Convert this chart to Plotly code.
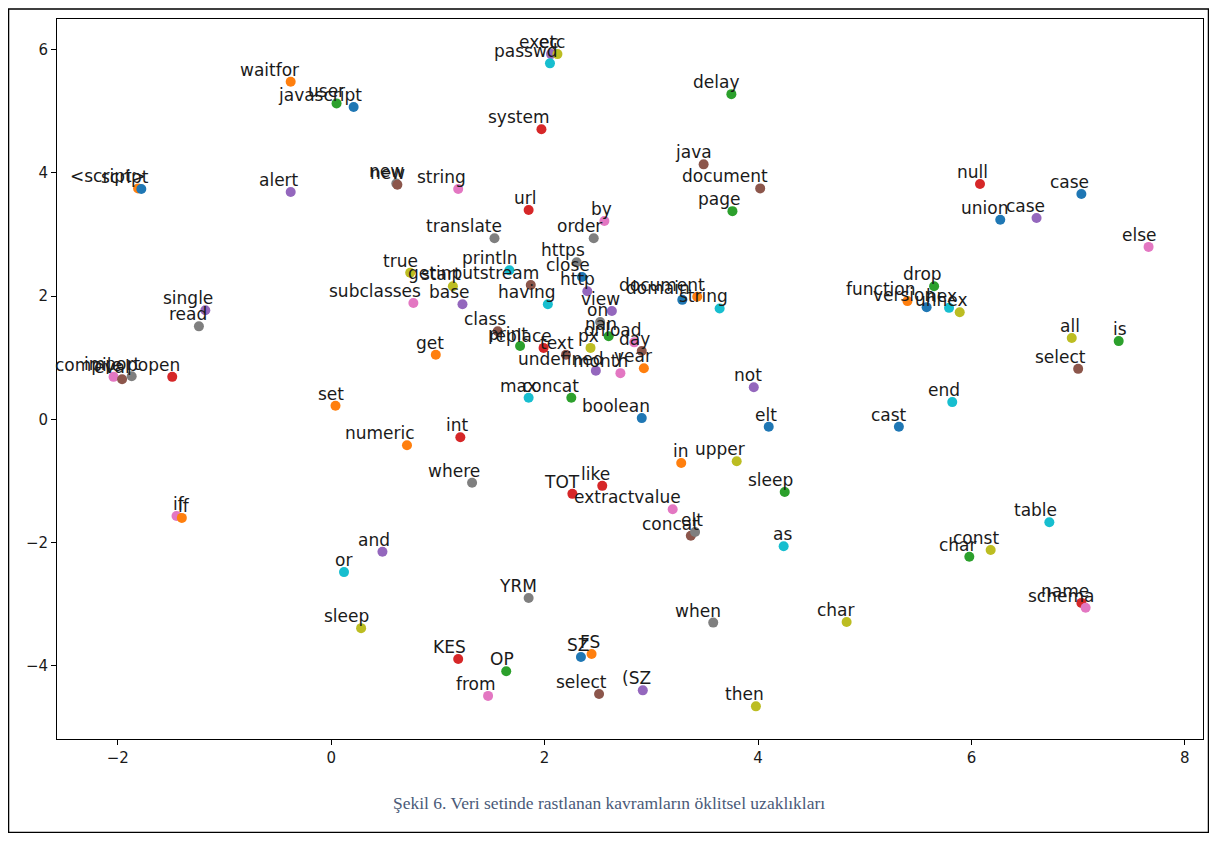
import plotly.graph_objects as go

# ---- data ----
words = [
    "waitfor", "user", "javascript", "exec", "etc", "passwd", "system", "delay", "java", "document",
    "page", "null", "case", "union", "case", "else", "<script>", "script", "alert", "new",
    "new", "string", "url", "by", "translate", "order", "https", "println", "close", "http",
    "true", "getinputstream", "start", "subclasses", "base", "having", "view", "domain", "document", "string",
    "on", "nan", "onload", "px", "day", "class", "print", "replace", "text", "undefined",
    "month", "year", "get", "max", "concat", "boolean", "not", "elt", "cast", "in",
    "upper", "sleep", "drop", "function", "version", "hex", "unhex", "all", "is", "select",
    "end", "single", "read", "compile", "eval", "import", "popen", "set", "numeric", "int",
    "where", "TOT", "like", "extractvalue", "concat", "elt", "as", "when", "char", "then",
    "(SZ", "select", "SZ", "FS", "KES", "OP", "from", "YRM", "sleep", "or",
    "and", "if", "if", "table", "const", "char", "name", "schema",
]
x_vals = [
    -0.38, 0.05, 0.21, 2.06, 2.12, 2.05, 1.97, 3.75, 3.49, 4.02,
    3.76, 6.08, 7.03, 6.27, 6.61, 7.66, -1.81, -1.78, -0.38, 0.61,
    0.62, 1.19, 1.85, 2.56, 1.53, 2.46, 2.30, 1.67, 2.35, 2.40,
    0.74, 1.87, 1.14, 0.77, 1.23, 2.03, 2.63, 3.29, 3.43, 3.64,
    2.52, 2.60, 2.84, 2.43, 2.91, 1.56, 1.77, 1.99, 2.20, 2.48,
    2.71, 2.93, 0.98, 1.85, 2.25, 2.91, 3.96, 4.10, 5.32, 3.28,
    3.80, 4.25, 5.65, 5.40, 5.58, 5.79, 5.89, 6.94, 7.38, 7.00,
    5.82, -1.18, -1.24, -2.04, -1.96, -1.87, -1.49, 0.04, 0.71, 1.21,
    1.32, 2.26, 2.54, 3.20, 3.37, 3.41, 4.24, 3.58, 4.83, 3.98,
    2.92, 2.51, 2.34, 2.44, 1.19, 1.64, 1.47, 1.85, 0.28, 0.12,
    0.48, -1.45, -1.40, 6.73, 6.18, 5.98, 7.03, 7.07,
]
y_vals = [
    5.48, 5.13, 5.07, 5.93, 5.93, 5.78, 4.71, 5.28, 4.14, 3.75,
    3.38, 3.82, 3.66, 3.24, 3.27, 2.80, 3.75, 3.74, 3.69, 3.83,
    3.81, 3.74, 3.40, 3.22, 2.94, 2.94, 2.55, 2.42, 2.31, 2.08,
    2.38, 2.18, 2.16, 1.89, 1.87, 1.87, 1.76, 1.94, 1.99, 1.80,
    1.58, 1.35, 1.25, 1.16, 1.11, 1.43, 1.19, 1.16, 1.05, 0.79,
    0.75, 0.83, 1.05, 0.35, 0.35, 0.02, 0.52, -0.12, -0.12, -0.71,
    -0.68, -1.18, 2.16, 1.92, 1.82, 1.81, 1.74, 1.32, 1.27, 0.82,
    0.28, 1.77, 1.51, 0.69, 0.65, 0.70, 0.69, 0.22, -0.42, -0.29,
    -1.03, -1.21, -1.08, -1.46, -1.89, -1.83, -2.06, -3.30, -3.29, -4.66,
    -4.40, -4.46, -3.86, -3.81, -3.89, -4.09, -4.49, -2.90, -3.39, -2.48,
    -2.15, -1.57, -1.60, -1.67, -2.12, -2.23, -2.98, -3.06,
]
x_ticks = [-2, 0, 2, 4, 6, 8]
y_ticks = [-4, -2, 0, 2, 4, 6]
caption = "Şekil 6. Veri setinde rastlanan kavramların öklitsel uzaklıkları"

# ---- style ----
palette = {
    "blue": "#1f77b4", "orange": "#ff7f0e", "green": "#2ca02c", "red": "#d62728",
    "purple": "#9467bd", "brown": "#8c564b", "pink": "#e377c2", "gray": "#7f7f7f",
    "olive": "#bcbd22", "cyan": "#17becf",
}
point_colors = [
    "orange", "green", "blue", "purple", "olive", "cyan", "red", "green", "brown", "brown",
    "green", "red", "blue", "blue", "purple", "pink", "orange", "blue", "purple", "gray",
    "brown", "pink", "red", "pink", "gray", "gray", "gray", "cyan", "blue", "purple",
    "olive", "brown", "olive", "pink", "purple", "cyan", "purple", "blue", "orange", "cyan",
    "gray", "green", "pink", "olive", "brown", "brown", "green", "red", "brown", "purple",
    "pink", "orange", "orange", "cyan", "green", "blue", "purple", "blue", "blue", "orange",
    "olive", "green", "green", "orange", "blue", "cyan", "olive", "olive", "green", "brown",
    "cyan", "purple", "gray", "pink", "brown", "gray", "red", "orange", "orange", "red",
    "gray", "red", "red", "pink", "brown", "gray", "cyan", "gray", "olive", "olive",
    "purple", "brown", "blue", "orange", "red", "green", "pink", "gray", "olive", "cyan",
    "purple", "pink", "orange", "cyan", "olive", "green", "red", "pink",
]

FONT = "DejaVu Sans"

fig = go.Figure()
fig.add_trace(go.Scatter(
    x=x_vals, y=y_vals, mode="markers",
    marker=dict(size=10, color=[palette[c] for c in point_colors], line=dict(width=0)),
    hoverinfo="text", text=words, showlegend=False,
))

annotations = []
for w, xv, yv in zip(words, x_vals, y_vals):
    annotations.append(dict(
        x=xv, y=yv, xref="x", yref="y", text=w, showarrow=False,
        xanchor="right", yanchor="bottom", xshift=10, yshift=0,
        font=dict(family=FONT, size=17, color="#1a1a1a"),
    ))

annotations.append(dict(
    x=0.4817, y=-0.089, xref="paper", yref="paper", text=caption, showarrow=False,
    xanchor="center", yanchor="middle",
    font=dict(family="Liberation Serif", size=17.5, color="#4a5a78"),
))

fig.update_layout(
    width=1201, height=825,
    margin=dict(l=49, r=6, t=11, b=94),
    paper_bgcolor="white", plot_bgcolor="white",
    annotations=annotations,
    shapes=[dict(
        type="rect", xref="paper", yref="paper",
        x0=-0.0423, x1=1.0048, y0=-0.1299, y1=1.0139,
        line=dict(color="black", width=1.5), fillcolor="rgba(0,0,0,0)", layer="below",
    )],
)
fig.update_xaxes(
    range=[-2.57, 8.17], tickvals=x_ticks, showgrid=False, zeroline=False,
    showline=True, mirror=True, linecolor="black", linewidth=1,
    ticks="outside", ticklen=5, tickcolor="black",
    tickfont=dict(family=FONT, size=15, color="#1a1a1a"),
)
fig.update_yaxes(
    range=[-5.19, 6.50], tickvals=y_ticks, showgrid=False, zeroline=False,
    showline=True, mirror=True, linecolor="black", linewidth=1,
    ticks="outside", ticklen=5, tickcolor="black",
    tickfont=dict(family=FONT, size=15, color="#1a1a1a"),
)

fig.write_html("out.html")
